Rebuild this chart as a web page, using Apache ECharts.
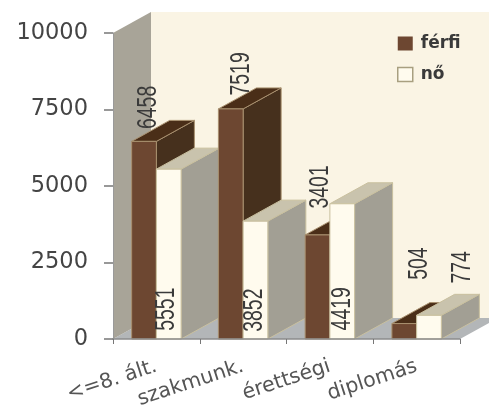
<!DOCTYPE html>
<html><head><meta charset="utf-8">
<style>html,body{margin:0;padding:0;background:#fff}#c{width:489px;height:412px;filter:blur(0.7px)}</style>
<script src="https://cdn.jsdelivr.net/npm/echarts@6/dist/echarts.min.js"></script>
</head><body><div id="c"></div>
<script>
const categories = ['<=8. ált.', 'szakmunk.', 'érettségi', 'diplomás'];
const ferfi = [6458, 7519, 3401, 504];
const no = [5551, 3852, 4419, 774];
const yTicks = [0, 2500, 5000, 7500, 10000];

// styling only
const DX = 38, DY = -21, BAR = 0.285;
const ferfiLabelShift = [[5, -34], [11, -35], [3, -48], [15, -60]];
const noLabelShift = [[-2, 140], [-1, 89], [0, 105], [34, -48]];
const maleStyle = {front: '#6d4731', top: '#4a2e18', side: '#46301d', edge: '#a8906f'};
const femaleStyle = {front: '#fffbee', top: '#c9c3ad', side: '#a29f94', edge: '#c9c09f'};

function poly(pts, fill, stroke) {
  return {type: 'polygon', shape: {points: pts}, style: {fill: fill, stroke: stroke || null, lineWidth: 1}};
}
function barRender(side, st, shifts) {
  return function (params, api) {
    const i = api.value(0), v = api.value(1);
    const top = api.coord([i, v]), base = api.coord([i, 0]);
    const w = api.size([1, 0])[0] * BAR;
    const x0 = side < 0 ? top[0] - w : top[0], x1 = x0 + w;
    const y = top[1], b = base[1];
    const s = shifts[i];
    return {type: 'group', children: [
      poly([[x1, y], [x1 + DX, y + DY], [x1 + DX, b + DY], [x1, b]], st.side, st.edge),
      poly([[x0, y], [x0 + DX, y + DY], [x1 + DX, y + DY], [x1, y]], st.top, st.edge),
      poly([[x0, y], [x1, y], [x1, b], [x0, b]], st.front, st.edge),
      {type: 'text', z2: 50, x: (x0 + x1) / 2 + s[0], y: y + s[1], rotation: Math.PI / 2, scaleX: 0.72, scaleY: 1,
       style: {text: String(v), font: '27px "Liberation Sans"', fill: '#3a3a3a', align: 'center', verticalAlign: 'middle'}}
    ]};
  };
}
function wallRender(params, api) {
  const c = params.coordSys;
  const l = c.x, r = c.x + c.width, t = c.y, b = c.y + c.height;
  return {type: 'group', children: [
    poly([[l + DX, t + DY], [r + DX, t + DY], [r + DX, b + DY], [l + DX, b + DY]], '#faf4e4'),
    poly([[l, b], [l + DX, b + DY], [r + DX, b + DY], [r, b]], '#b3b6b8'),
    poly([[l, t], [l + DX, t + DY], [l + DX, b + DY], [l, b]], '#a8a498')
  ]};
}
const chart = echarts.init(document.getElementById('c'), null, {renderer: 'canvas'});
chart.setOption({
  animation: false,
  backgroundColor: '#fff',
  grid: {left: 113, right: 29, top: 33, bottom: 73},
  legend: {
    orient: 'vertical', left: 397, top: 35, padding: 0, itemWidth: 15, itemHeight: 14, itemGap: 14, icon: 'rect',
    data: [{name: 'férfi', itemStyle: {color: maleStyle.front, borderColor: '#8a6a4c'}},
           {name: 'nő', itemStyle: {color: femaleStyle.front, borderColor: '#a89f80', borderWidth: 1.5}}],
    itemStyle: {borderRadius: 0},
    textStyle: {color: '#3a3a3a', fontSize: 17, fontWeight: 'bold', fontFamily: 'DejaVu Sans', padding: [0, 0, 0, 3]}
  },
  xAxis: {
    type: 'category', data: categories, z: 5,
    axisLine: {lineStyle: {color: '#8c8c8c', width: 1.5}},
    axisTick: {show: true, length: 5, lineStyle: {color: '#777'}},
    axisLabel: {rotate: 18, margin: 27, interval: 0, fontSize: 20.5, color: '#555', fontFamily: 'DejaVu Sans'}
  },
  yAxis: {
    type: 'value', min: yTicks[0], max: yTicks[yTicks.length - 1], interval: yTicks[1] - yTicks[0], z: 5,
    splitLine: {show: false},
    axisLine: {show: true, lineStyle: {color: '#9a9a9a'}},
    axisTick: {show: true, length: 9, lineStyle: {color: '#777', width: 1.5}},
    axisLabel: {margin: 25, fontSize: 22.5, color: '#444', fontFamily: 'DejaVu Sans', formatter: function (v) { return String(v); }}
  },
  series: [
    {type: 'custom', name: 'wall', silent: true, clip: false, z: 1, renderItem: wallRender, data: [[0, 0]], encode: {x: 0, y: 1}},
    {type: 'custom', name: 'férfi', clip: false, z: 2, itemStyle: {color: maleStyle.front},
     renderItem: function (p, api) { return null; }, data: []},
    {type: 'custom', name: 'nő', clip: false, z: 2, itemStyle: {color: femaleStyle.front},
     renderItem: function (p, api) { return null; }, data: []},
    {type: 'custom', clip: false, z: 3, silent: true, encode: {x: 0, y: 1},
     renderItem: function (p, api) {
       const g = api.value(2) === 0 ? barRender(-1, maleStyle, ferfiLabelShift) : barRender(1, femaleStyle, noLabelShift);
       return g(p, api);
     },
     data: categories.flatMap((c, i) => [[i, ferfi[i], 0], [i, no[i], 1]])}
  ]
});
</script></body></html>
